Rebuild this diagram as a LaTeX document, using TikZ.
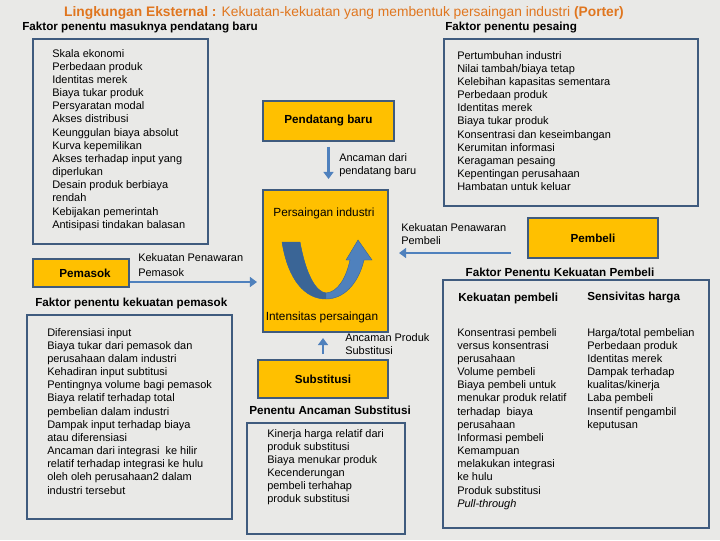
\documentclass[tikz,border=0pt]{standalone}
\usepackage{fontspec}
\setmainfont{Liberation Sans}
\usetikzlibrary{arrows.meta,positioning}
\definecolor{boxorange}{HTML}{FFC000}
\definecolor{boxedge}{HTML}{3F5B7E}
\definecolor{arrowblue}{HTML}{4F81BD}
\definecolor{arrowdark}{HTML}{3A6596}
\definecolor{titleorange}{HTML}{E0761F}
\definecolor{paper}{HTML}{E9E9E7}

\begin{document}
\begin{tikzpicture}[x=0.025cm, y=-0.025cm,
    block/.style={rectangle, draw=boxedge, line width=1.4pt, fill=boxorange,
        font=\fontsize{8.3}{10}\selectfont\bfseries, inner sep=0pt},
    frame/.style={draw=boxedge, line width=1.4pt},
    list/.style={align=left, inner sep=0pt, anchor=north west,
        font=\fontsize{7.8}{9.35}\selectfont},
    head/.style={inner sep=0pt, font=\fontsize{8.3}{10}\selectfont\bfseries},
    inbox/.style={inner sep=0pt, font=\fontsize{8.4}{10}\selectfont},
    line/.style={draw=arrowblue, line width=2pt, -{Triangle[length=5pt,width=7pt]}}
    ]

    \fill[paper] (0,0) rectangle (720,540);

    % Titles
    \node[inner sep=0pt, text=titleorange, font=\fontsize{9.8}{11}\selectfont] (title) at (344,13)
        {\textbf{Lingkungan Eksternal :} Kekuatan-kekuatan yang membentuk persaingan industri \textbf{(Porter)}};
    \node[head, anchor=west] (hbaru) at (22,28) {Faktor penentu masuknya pendatang baru};
    \node[head, anchor=west] (hsaing) at (445,28) {Faktor penentu pesaing};
    \node[head, anchor=west] (hpasok) at (35,303) {Faktor penentu kekuatan pemasok};
    \node[head, anchor=west] (hsubst) at (249,410) {Penentu Ancaman Substitusi};
    \node[head] (hbeli) at (560,272) {Faktor Penentu Kekuatan Pembeli};

    % Frames
    \draw[frame] (33,39) rectangle (208,244);
    \draw[frame] (444,39) rectangle (698,206);
    \draw[frame] (27,315) rectangle (232,519);
    \draw[frame] (247,423) rectangle (405,534);
    \draw[frame] (443,280) rectangle (709,528);

    % Lists
    \node[list] (lbaru) at (52,49) {Skala ekonomi\\Perbedaan produk\\Identitas merek\\Biaya tukar produk\\Persyaratan modal\\Akses distribusi\\Keunggulan biaya absolut\\Kurva kepemilikan\\Akses terhadap input yang\\diperlukan\\Desain produk berbiaya\\rendah\\Kebijakan pemerintah\\Antisipasi tindakan balasan};
    \node[list] (lsaing) at (457,51) {Pertumbuhan industri\\Nilai tambah/biaya tetap\\Kelebihan kapasitas sementara\\Perbedaan produk\\Identitas merek\\Biaya tukar produk\\Konsentrasi dan keseimbangan\\Kerumitan informasi\\Keragaman pesaing\\Kepentingan perusahaan\\Hambatan untuk keluar};
    \node[list] (lpasok) at (47,328) {Diferensiasi input\\Biaya tukar dari pemasok dan\\perusahaan dalam industri\\Kehadiran input subtitusi\\Pentingnya volume bagi pemasok\\Biaya relatif terhadap total\\pembelian dalam industri\\Dampak input terhadap biaya\\atau diferensiasi\\Ancaman dari integrasi\ \ ke hilir\\relatif terhadap integrasi ke hulu\\oleh oleh perusahaan2 dalam\\industri tersebut};
    \node[list] (lsubst) at (267,429) {Kinerja harga relatif dari\\produk substitusi\\Biaya menukar produk\\Kecenderungan\\pembeli terhahap\\produk substitusi};
    \node[head, anchor=west] (hkuat) at (458,298) {Kekuatan pembeli};
    \node[head, anchor=west] (hharga) at (587,298) {Sensivitas harga};
    \node[list] (lkuat) at (457,328) {Konsentrasi pembeli\\versus konsentrasi\\perusahaan\\Volume pembeli\\Biaya pembeli untuk\\menukar produk relatif\\terhadap\ \ biaya\\perusahaan\\Informasi pembeli\\Kemampuan\\melakukan integrasi\\ke hulu\\Produk substitusi\\\textit{Pull-through}};
    \node[list] (lharga) at (587,328) {Harga/total pembelian\\Perbedaan produk\\Identitas merek\\Dampak terhadap\\kualitas/kinerja\\Laba pembeli\\Insentif pengambil\\keputusan};

    % Forces
    \node[block, minimum width=3.275cm, minimum height=1cm] (baru) at (328.5,121) {Pendatang baru};
    \node[block, minimum width=3.125cm, minimum height=3.55cm] (saing) at (325.5,261) {};
    \node[inbox] (saingtop) at (324,213) {Persaingan industri};
    \node[inbox] (saingbot) at (322,317) {Intensitas persaingan};
    \node[block, minimum width=2.4cm, minimum height=0.7cm] (pemasok) at (81,273) {\hspace{0.2cm}Pemasok};
    \node[block, minimum width=3.25cm, minimum height=1cm] (pembeli) at (593,238) {Pembeli};
    \node[block, minimum width=3.25cm, minimum height=0.95cm] (subst) at (323,379) {Substitusi};

    % Rivalry arrow
    \fill[arrowblue, draw=arrowdark, line width=0.3pt] (282,242) -- (300,242)
        .. controls (306,275) and (316,292) .. (326,293)
        .. controls (338,292) and (346,278) .. (350,260) -- (346,260) -- (358,240) -- (372,260) -- (364,260)
        .. controls (358,285) and (343,299) .. (326,299)
        .. controls (305,299) and (288,280) .. (282,242) -- cycle;
    \fill[arrowdark] (282,242) -- (300,242)
        .. controls (306,275) and (316,292) .. (326,293) -- (326,299)
        .. controls (305,299) and (288,280) .. (282,242) -- cycle;

    % Paths
    \draw[line, shorten <=0.125cm, shorten >=0.25cm] (baru.south) -- (baru.south |- saing.north);
    \draw[line, shorten >=0.125cm] ([yshift=-0.225cm]pemasok.east) -- ([yshift=-0.225cm]pemasok.east -| saing.west);
    \draw[line, shorten <=0.4cm, shorten >=0.25cm] ([yshift=-0.375cm]pembeli.west) -- ([yshift=-0.375cm]pembeli.west -| saing.east);
    \draw[line, line width=1.6pt, shorten <=0.125cm, shorten >=0.125cm] (subst.north) -- (subst.north |- saing.south);

    % Annotations
    \node[list] (abaru) at (339,153) {Ancaman dari\\pendatang baru};
    \node[list, font=\fontsize{7.8}{10.5}\selectfont] (apasok) at (138,253) {Kekuatan Penawaran\\Pemasok};
    \node[list] (abeli) at (401,223) {Kekuatan Penawaran\\Pembeli};
    \node[list] (asubst) at (345,333) {Ancaman Produk\\Substitusi};
\end{tikzpicture}
\end{document}
